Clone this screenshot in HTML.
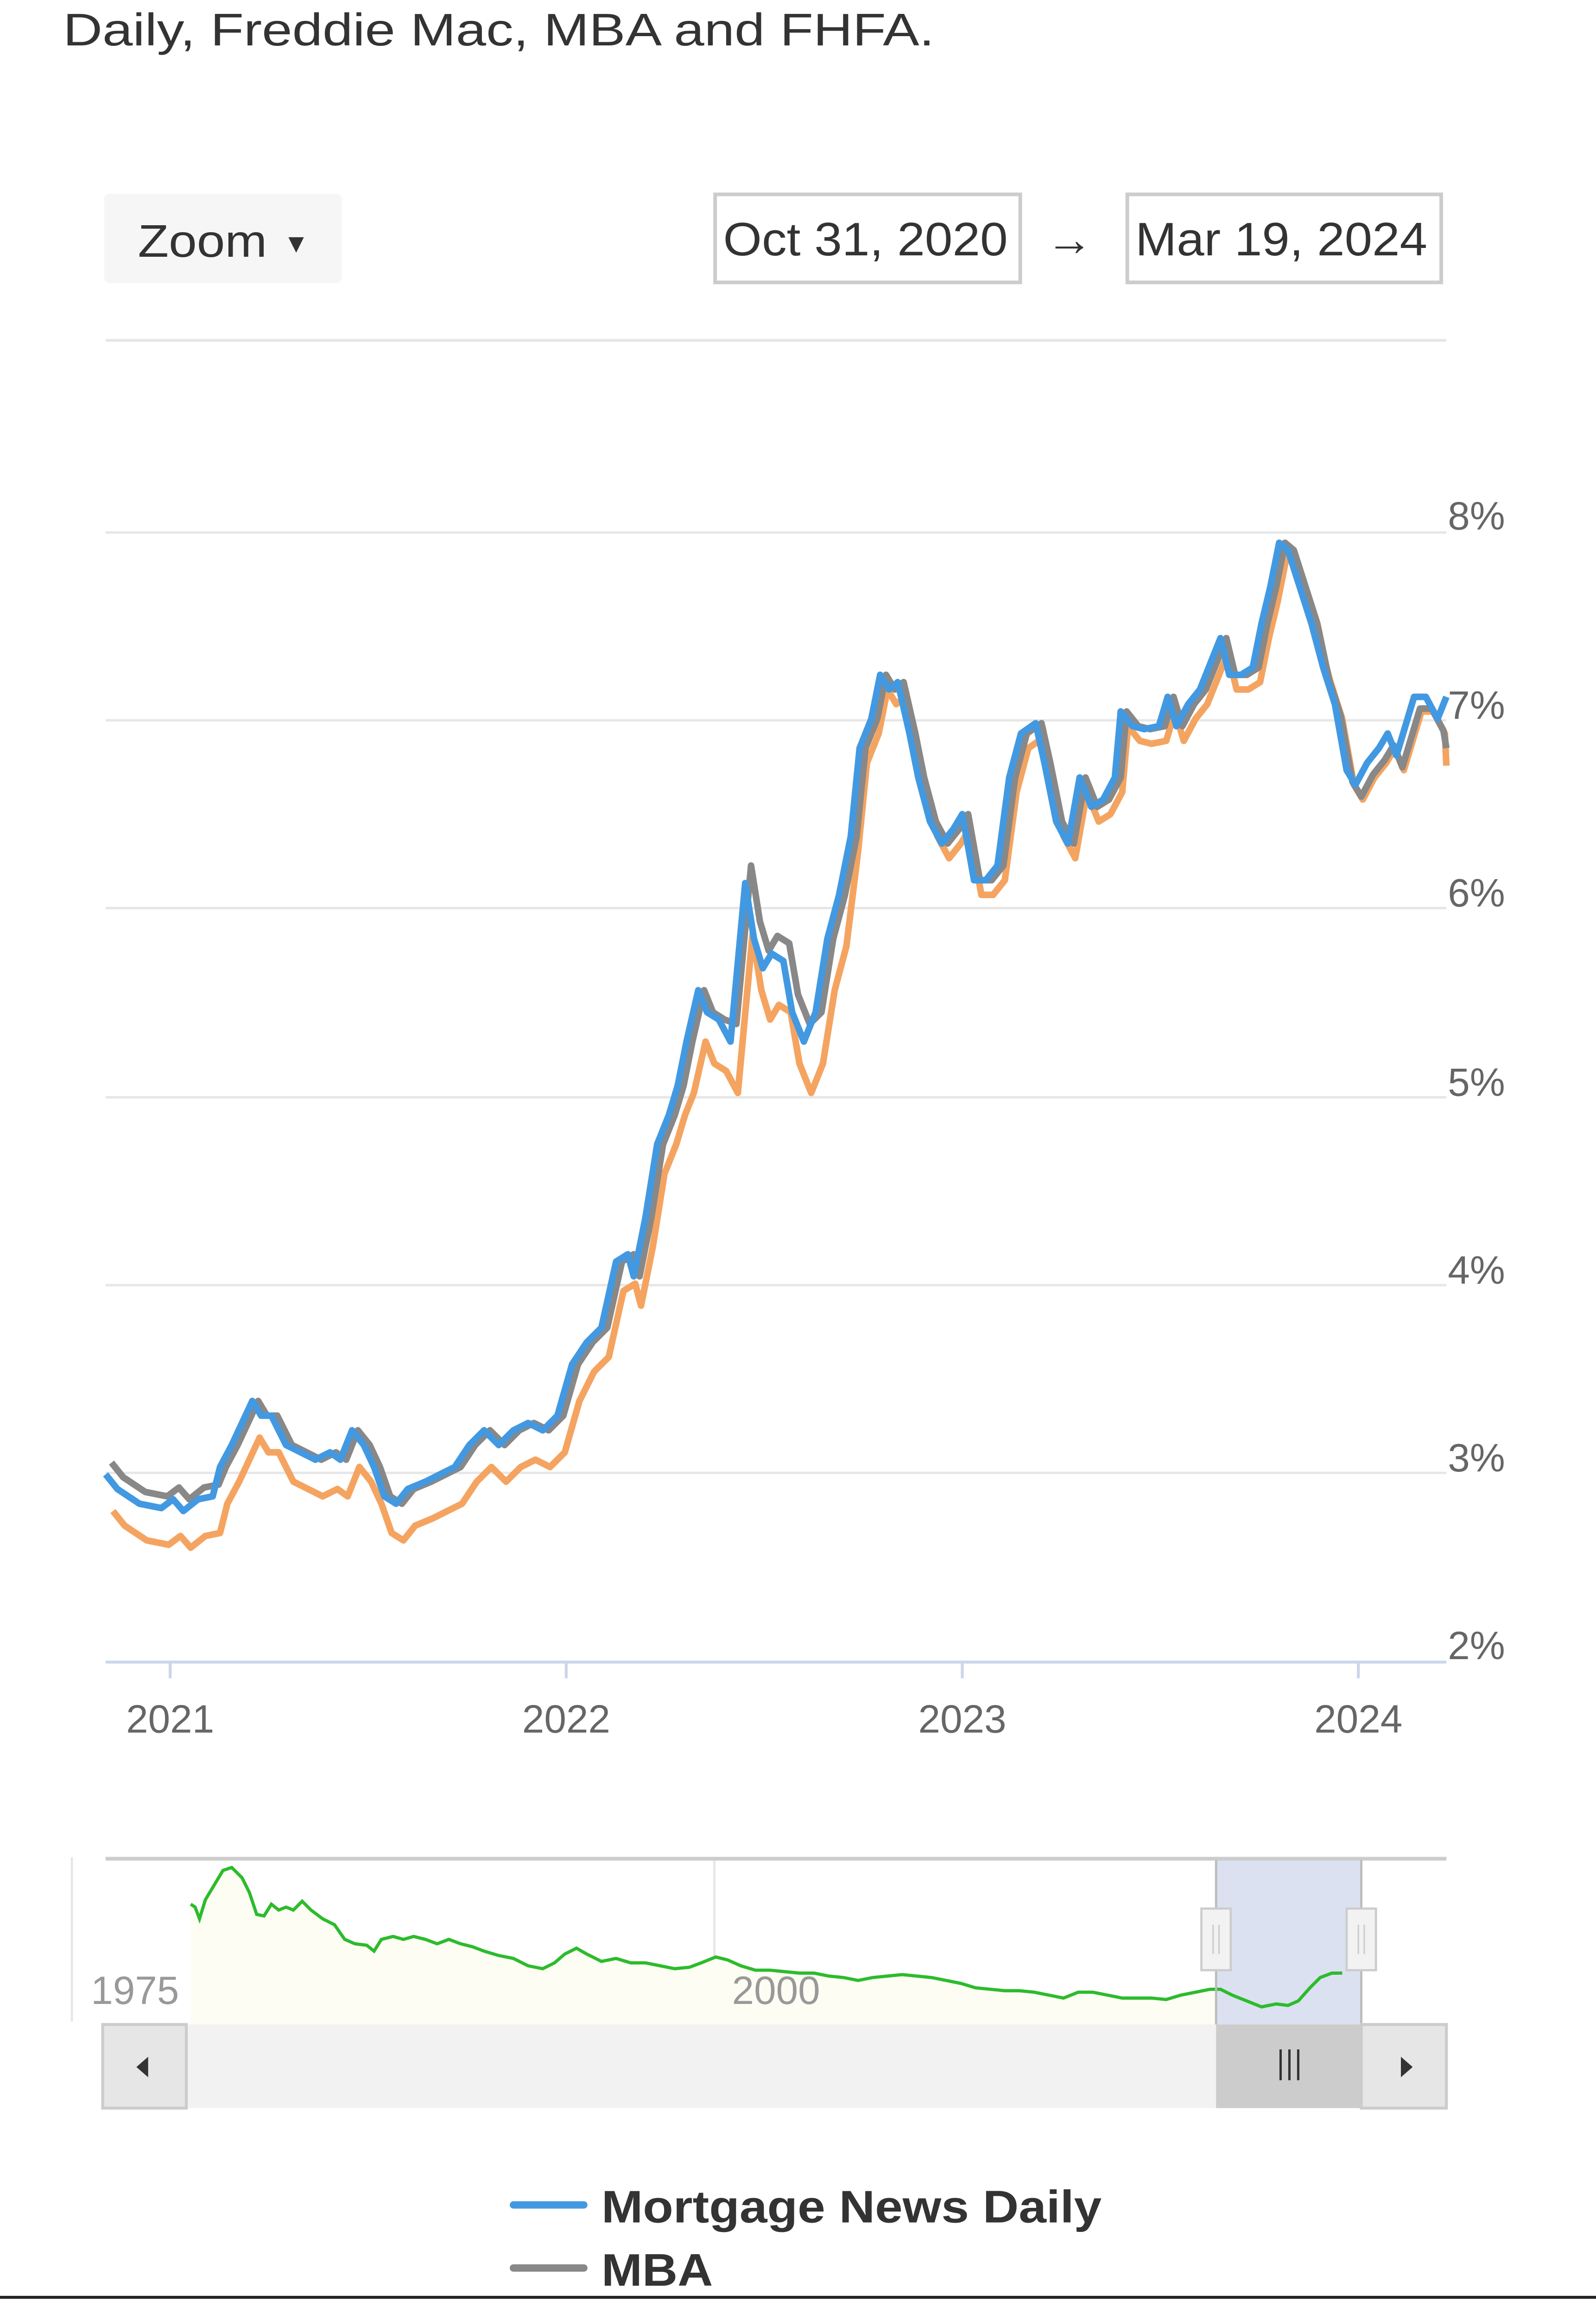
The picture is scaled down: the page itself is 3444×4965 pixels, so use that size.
<!DOCTYPE html>
<html><head><meta charset="utf-8"><style>
html,body{margin:0;padding:0;background:#fff;}
svg{display:block;}
text{font-family:"Liberation Sans",sans-serif;}
</style></head><body>
<svg id="s" width="3444" height="4965" viewBox="0 0 1088 1568.5" preserveAspectRatio="none" xmlns="http://www.w3.org/2000/svg">
<rect width="1088" height="1568.5" fill="#fff"/>
<text x="43" y="31" font-size="31" fill="#333" textLength="594" lengthAdjust="spacingAndGlyphs">Daily, Freddie Mac, MBA and FHFA.</text>
<rect x="71" y="132" width="162" height="61" rx="4" fill="#f6f6f6"/>
<text x="94" y="175" font-size="31" fill="#333" textLength="88" lengthAdjust="spacingAndGlyphs">Zoom</text>
<text x="193" y="172" font-size="18" fill="#333">▼</text>
<rect x="487.5" y="132.5" width="208" height="60" fill="#fff" stroke="#ccc" stroke-width="2.5"/>
<text x="493" y="174" font-size="32" fill="#333" textLength="194" lengthAdjust="spacingAndGlyphs">Oct 31, 2020</text>
<text x="713" y="174" font-size="32" fill="#333">→</text>
<rect x="768.5" y="132.5" width="214" height="60" fill="#fff" stroke="#ccc" stroke-width="2.5"/>
<text x="774" y="174" font-size="32" fill="#333" textLength="199" lengthAdjust="spacingAndGlyphs">Mar 19, 2024</text>
<line x1="72" y1="232" x2="986" y2="232" stroke="#e6e6e6" stroke-width="2"/>
<g stroke="#e6e6e6" stroke-width="1.6">
<line x1="72" y1="363" x2="986" y2="363"/><line x1="72" y1="491" x2="986" y2="491"/>
<line x1="72" y1="619" x2="986" y2="619"/><line x1="72" y1="748" x2="986" y2="748"/>
<line x1="72" y1="876" x2="986" y2="876"/><line x1="72" y1="1004" x2="986" y2="1004"/>
</g>
<g font-size="27" fill="#666">
<text x="987" y="361">8%</text><text x="987" y="490">7%</text><text x="987" y="618">6%</text>
<text x="987" y="747">5%</text><text x="987" y="875">4%</text><text x="987" y="1003">3%</text><text x="987" y="1131">2%</text>
</g>
<line x1="72" y1="1133" x2="986" y2="1133" stroke="#ccd6eb" stroke-width="2"/>
<g stroke="#ccd6eb" stroke-width="2"><line x1="116" y1="1133" x2="116" y2="1144"/><line x1="386" y1="1133" x2="386" y2="1144"/><line x1="656" y1="1133" x2="656" y2="1144"/><line x1="926" y1="1133" x2="926" y2="1144"/></g>
<g font-size="27" fill="#666" text-anchor="middle">
<text x="116" y="1181">2021</text><text x="386" y="1181">2022</text><text x="656" y="1181">2023</text><text x="926" y="1181">2024</text>
</g>
<path id="pO" fill="none" stroke="#f4a460" stroke-width="4.5" stroke-linejoin="round"/>
<path id="pG" fill="none" stroke="#888" stroke-width="4.5" stroke-linejoin="round"/>
<path id="pB" fill="none" stroke="#4299e1" stroke-width="4.5" stroke-linejoin="round"/>
<!-- navigator -->
<line x1="49" y1="1266" x2="49" y2="1378" stroke="#e6e6e6" stroke-width="1.5"/>
<line x1="487" y1="1268" x2="487" y2="1380" stroke="#e6e6e6" stroke-width="1.5"/>
<path id="nf" fill="#fdfdf3" stroke="none"/>
<rect x="829" y="1268" width="99" height="112" fill="#d5dcee" opacity="0.85"/>
<path id="nl" fill="none" stroke="#2dbb2d" stroke-width="2.2"/>
<line x1="72" y1="1267" x2="986" y2="1267" stroke="#ccc" stroke-width="2.5"/>
<text x="62" y="1366" font-size="27" fill="#999">1975</text>
<text x="499" y="1366" font-size="27" fill="#999">2000</text>
<line x1="829" y1="1268" x2="829" y2="1380" stroke="#bbb" stroke-width="1.5"/>
<line x1="928" y1="1268" x2="928" y2="1380" stroke="#bbb" stroke-width="1.5"/>
<rect x="819" y="1301" width="20" height="42" fill="#f2f2f2" stroke="#ccc" stroke-width="1.5"/>
<line x1="827" y1="1312" x2="827" y2="1332" stroke="#ccc"/><line x1="831" y1="1312" x2="831" y2="1332" stroke="#ccc"/>
<rect x="918" y="1301" width="20" height="42" fill="#f2f2f2" stroke="#ccc" stroke-width="1.5"/>
<line x1="926" y1="1312" x2="926" y2="1332" stroke="#ccc"/><line x1="930" y1="1312" x2="930" y2="1332" stroke="#ccc"/>
<rect x="70" y="1380" width="916" height="57" fill="#f2f2f2"/>
<rect x="70" y="1380" width="57" height="57" fill="#e6e6e6" stroke="#ccc" stroke-width="2"/>
<path d="M101,1402 L93,1409 L101,1416 Z" fill="#333"/>
<rect x="829" y="1380" width="99" height="57" fill="#ccc"/>
<g stroke="#333" stroke-width="1.6"><line x1="873" y1="1397" x2="873" y2="1418"/><line x1="879" y1="1397" x2="879" y2="1418"/><line x1="885" y1="1397" x2="885" y2="1418"/></g>
<rect x="928" y="1380" width="58" height="57" fill="#e6e6e6" stroke="#ccc" stroke-width="2"/>
<path d="M955,1402 L963,1409 L955,1416 Z" fill="#333"/>
<!-- legend -->
<line x1="350" y1="1503" x2="398" y2="1503" stroke="#4299e1" stroke-width="5" stroke-linecap="round"/>
<text x="410" y="1515" font-size="31" font-weight="bold" fill="#333" textLength="341" lengthAdjust="spacingAndGlyphs">Mortgage News Daily</text>
<line x1="350" y1="1546" x2="398" y2="1546" stroke="#888" stroke-width="5" stroke-linecap="round"/>
<text x="410" y="1558" font-size="31" font-weight="bold" fill="#333" textLength="76" lengthAdjust="spacingAndGlyphs">MBA</text>
<line x1="0" y1="1566" x2="1088" y2="1566" stroke="#222" stroke-width="2"/>
</svg>
<script>
var B=[[72,1005],[80,1015],[95,1025],[110,1028],[118,1022],[125,1030],[135,1022],[145,1020],[150,1000],[158,985],[165,970],[172,955],[178,965],[185,965],[195,985],[205,990],[215,995],[225,990],[232,995],[240,975],[248,985],[255,1000],[262,1020],[270,1025],[278,1015],[290,1010],[300,1005],[310,1000],[320,985],[330,975],[340,985],[350,975],[360,970],[370,975],[380,965],[390,930],[400,915],[410,905],[420,860],[428,855],[432,870],[440,830],[448,780],[456,760],[462,740],[468,710],[476,675],[482,690],[490,695],[498,710],[508,602],[514,640],[520,660],[526,650],[534,655],[540,690],[548,710],[556,690],[564,640],[572,610],[580,570],[586,510],[594,490],[600,460],[606,470],[612,465],[620,500],[626,530],[634,560],[642,575],[650,565],[656,555],[664,600],[672,600],[680,590],[688,530],[696,500],[706,493],[712,520],[720,560],[728,575],[736,530],[744,550],[752,545],[760,530],[764,485],[772,495],[780,497],[790,495],[796,475],[802,495],[810,480],[818,470],[826,450],[832,435],[838,460],[846,460],[854,455],[860,425],[866,400],[872,370],[878,375],[886,400],[894,425],[902,455],[910,480],[918,525],[924,535],[932,520],[940,510],[946,500],[952,515],[958,495],[964,475],[972,475],[980,490],[986,475]];
function d(a){return "M"+a.map(function(p){return p[0].toFixed(1)+","+p[1].toFixed(1)}).join(" L");}
var G=B.map(function(p,i){var x=p[0]+4,y=p[1];if(x<150)y-=8;else if(x>500&&x<560)y-=12;else if(x>900)y+=8;if(x>986)x=986;return [x,y];});
G[G.length-1][1]=510;
var O=B.map(function(p){var x=p[0]+5,y=p[1];if(x<400)y+=25;else if(x<470)y+=20;else if(x<580)y+=35;else y+=10;if(x>986)x=986;return [x,y];});
O[O.length-1][1]=522;
document.getElementById("pB").setAttribute("d",d(B));
document.getElementById("pG").setAttribute("d",d(G));
document.getElementById("pO").setAttribute("d",d(O));
var N=[[130,1298],[133,1300],[136,1308],[140,1295],[146,1285],[152,1275],[158,1273],[165,1280],[170,1290],[175,1305],[180,1306],[185,1298],[190,1302],[195,1300],[200,1302],[206,1296],[212,1302],[220,1308],[228,1312],[235,1322],[242,1325],[250,1326],[255,1330],[260,1322],[268,1320],[275,1322],[282,1320],[290,1322],[298,1325],[306,1322],[314,1325],[322,1327],[330,1330],[340,1333],[350,1335],[360,1340],[370,1342],[378,1338],[385,1332],[393,1328],[400,1332],[410,1337],[420,1335],[430,1338],[440,1338],[450,1340],[460,1342],[470,1341],[478,1338],[488,1334],[496,1336],[505,1340],[515,1343],[525,1343],[535,1344],[545,1345],[555,1345],[565,1347],[575,1348],[585,1350],[595,1348],[605,1347],[615,1346],[625,1347],[635,1348],[645,1350],[655,1352],[665,1355],[675,1356],[685,1357],[695,1357],[705,1358],[715,1360],[725,1362],[735,1358],[745,1358],[755,1360],[765,1362],[775,1362],[785,1362],[795,1363],[805,1360],[815,1358],[825,1356],[832,1356],[840,1360],[850,1364],[860,1368],[870,1366],[878,1367],[885,1364],[893,1355],[900,1348],[908,1345],[915,1345]];
document.getElementById("nl").setAttribute("d",d(N));
document.getElementById("nf").setAttribute("d",d(N)+" L915,1380 L130,1380 Z");
</script>
</body></html>
